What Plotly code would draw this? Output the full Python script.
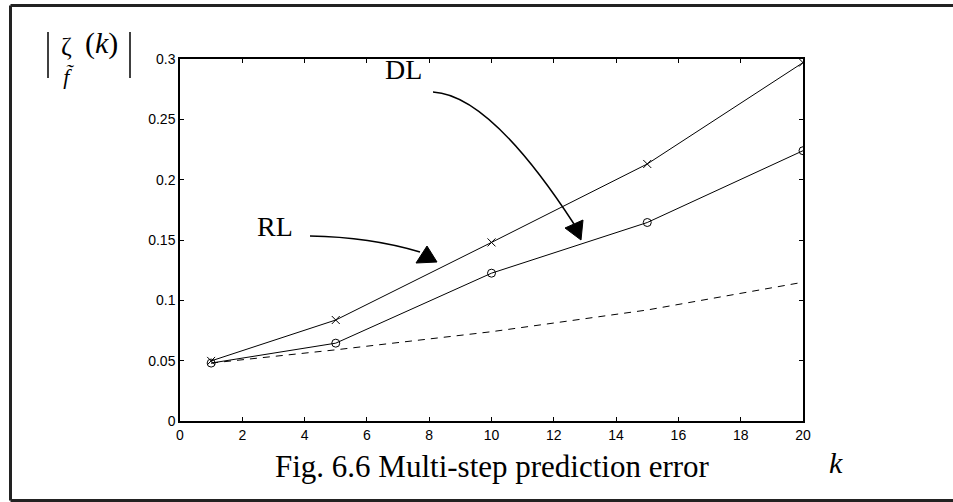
import plotly.graph_objects as go

# ---- data ----
k_steps = [1, 5, 10, 15, 20]
dl_error = [0.0498, 0.0837, 0.148, 0.213, 0.297]      # 'x' markers
rl_error = [0.048, 0.0645, 0.1225, 0.1645, 0.224]     # 'o' markers
bound_error = [0.048, 0.059, 0.074, 0.092, 0.115]     # dashed
x_ticks = [0, 2, 4, 6, 8, 10, 12, 14, 16, 18, 20]
y_ticks = [0, 0.05, 0.1, 0.15, 0.2, 0.25, 0.3]
y_tick_text = ["0", "0.05", "0.1", "0.15", "0.2", "0.25", "0.3"]

W, H = 953, 502
L, R, T, B = 180, 150, 59, 81
PW, PH = W - L - R, H - T - B


def px(x):
    return (x - L) / PW


def py(y):
    return (H - B - y) / PH


fig = go.Figure()
fig.add_trace(go.Scatter(x=k_steps, y=dl_error, mode="lines+markers",
                         line=dict(color="black", width=1),
                         marker=dict(symbol="x-thin", size=8, line=dict(color="black", width=1)),
                         showlegend=False))
fig.add_trace(go.Scatter(x=k_steps, y=rl_error, mode="lines+markers",
                         line=dict(color="black", width=1),
                         marker=dict(symbol="circle-open", size=8, color="black", line=dict(width=1)),
                         showlegend=False))
fig.add_trace(go.Scatter(x=k_steps, y=bound_error, mode="lines",
                         line=dict(color="black", width=1, dash="7px,6px"),
                         showlegend=False))

shapes = []
frame_col = "#222"
shapes.append(dict(type="line", xref="paper", yref="paper", x0=px(10.5), x1=px(10.5),
                   y0=py(5.5), y1=py(500.5), line=dict(color=frame_col, width=3)))
shapes.append(dict(type="line", xref="paper", yref="paper", x0=px(10.5), x1=px(960),
                   y0=py(5.5), y1=py(5.5), line=dict(color=frame_col, width=3)))
shapes.append(dict(type="line", xref="paper", yref="paper", x0=px(10.5), x1=px(960),
                   y0=py(500.5), y1=py(500.5), line=dict(color=frame_col, width=3)))
for bx in (48, 130):
    shapes.append(dict(type="line", xref="paper", yref="paper", x0=px(bx), x1=px(bx),
                       y0=py(32), y1=py(78), line=dict(color="black", width=1.5)))


def qpath(p0, c, p1):
    return (f"M {px(p0[0])},{py(p0[1])} Q {px(c[0])},{py(c[1])} {px(p1[0])},{py(p1[1])}")


def tri(pts):
    return "M " + " L ".join(f"{px(a)},{py(b)}" for a, b in pts) + " Z"


shapes.append(dict(type="path", xref="paper", yref="paper",
                   path=qpath((433, 92), (490, 95), (574, 224)),
                   line=dict(color="black", width=1.5)))
shapes.append(dict(type="path", xref="paper", yref="paper",
                   path=tri([(565, 228), (583, 220), (581, 240)]),
                   fillcolor="black", line=dict(color="black", width=1)))
shapes.append(dict(type="path", xref="paper", yref="paper",
                   path=qpath((310, 236), (370, 237), (420, 252)),
                   line=dict(color="black", width=1.5)))
shapes.append(dict(type="path", xref="paper", yref="paper",
                   path=tri([(416, 263), (427, 246), (437, 262)]),
                   fillcolor="black", line=dict(color="black", width=1)))

serif = "Liberation Serif"
ann = []


def add_text(txt, x, y, size, xanchor="center"):
    ann.append(dict(text=txt, x=px(x), y=py(y), xref="paper", yref="paper",
                    showarrow=False, xanchor=xanchor, yanchor="middle",
                    font=dict(family=serif, size=size, color="black")))


add_text("DL", 403, 69, 28)
add_text("RL", 275, 226, 28)
add_text("<i>k</i>", 836, 462, 30)
add_text("Fig. 6.6 Multi-step prediction error", 492, 466, 31)
add_text("<span style='font-size:26px'>ζ</span><br><i>f\u0303</i>", 67, 60, 22)
add_text("(<i>k</i>)", 101, 43, 30)

tick_font = dict(family="Liberation Sans", size=14, color="black")
fig.update_layout(
    width=W, height=H,
    margin=dict(l=L, r=R, t=T, b=B, pad=0),
    paper_bgcolor="white", plot_bgcolor="white",
    shapes=shapes, annotations=ann,
    xaxis=dict(range=[0, 20], tickvals=x_ticks, ticks="inside", ticklen=4,
               tickcolor="black", showline=True, linecolor="black", linewidth=1.5,
               mirror="ticks", showgrid=False, zeroline=False, tickfont=tick_font),
    yaxis=dict(range=[0, 0.3], tickvals=y_ticks, ticktext=y_tick_text, ticks="inside",
               ticklen=4, tickcolor="black", showline=True, linecolor="black",
               linewidth=1.5, mirror="ticks", showgrid=False, zeroline=False,
               tickfont=tick_font),
)

fig.write_html("out.html")
